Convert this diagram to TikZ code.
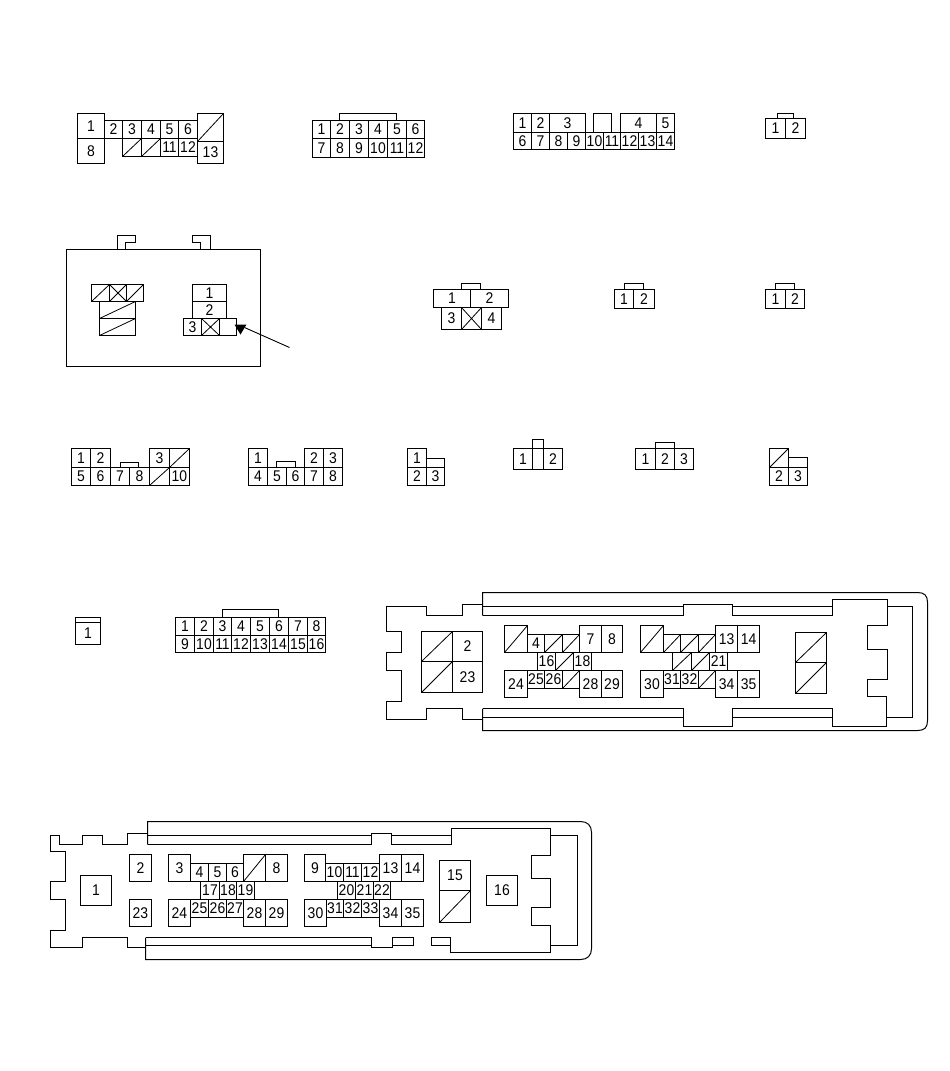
\documentclass[tikz,border=0pt]{standalone}
\usepackage{fontspec}
\setmainfont{Liberation Sans}
\newcounter{cellno}
\tikzset{
  ln/.style={line width=1pt,black},
  dg/.style={line width=0.8pt,black},
  lbl/.style={inner sep=0pt,xscale=0.9,font=\fontsize{15.5}{15.5}\selectfont,text=black}
}
% plain cell with label
\newcommand{\Cl}[5]{%
  \stepcounter{cellno}%
  \draw[ln] (#1,#2) rectangle (#3,#4);
  \node[lbl] (cell\arabic{cellno}) at ({(#1+#3)/2},{(#2+#4)/2}) {#5};}
% cell with diagonal
\newcommand{\Cs}[4]{%
  \draw[ln] (#1,#2) rectangle (#3,#4);
  \draw[dg] (#1,#4) -- (#3,#2);}
% cell with cross
\newcommand{\Cx}[4]{%
  \draw[ln] (#1,#2) rectangle (#3,#4);
  \draw[dg] (#1,#4) -- (#3,#2) (#1,#2) -- (#3,#4);}
\begin{document}
\begin{tikzpicture}[x=1pt,y=-1pt]
\useasboundingbox (0,0) rectangle (950,1071);
\fill[white] (0,0) rectangle (950,1071);
\begin{scope}[shift={(0.5,0.5)}]

% --- row 1 ---
\Cl{77}{113}{104}{138}{1}\Cl{77}{138}{104}{163}{8}
\draw[ln] (104,120) -- (197,120);
\Cl{104}{120}{122}{138}{2}\Cl{122}{120}{141}{138}{3}\Cl{141}{120}{160}{138}{4}\Cl{160}{120}{178}{138}{5}\Cl{178}{120}{197}{138}{6}
\Cs{122}{138}{141}{156}\Cs{141}{138}{160}{156}\Cl{160}{138}{178}{156}{11}\Cl{178}{138}{197}{156}{12}
\Cs{197}{113}{223}{141}\Cl{197}{141}{223}{163}{13}

\draw[ln] (339,120) -- (339,113) -- (396,113) -- (396,120);
\Cl{312}{120}{330}{138}{1}\Cl{330}{120}{349}{138}{2}\Cl{349}{120}{368}{138}{3}\Cl{368}{120}{387}{138}{4}\Cl{387}{120}{406}{138}{5}\Cl{406}{120}{424}{138}{6}
\Cl{312}{138}{330}{157}{7}\Cl{330}{138}{349}{157}{8}\Cl{349}{138}{368}{157}{9}\Cl{368}{138}{387}{157}{10}\Cl{387}{138}{406}{157}{11}\Cl{406}{138}{424}{157}{12}

\Cl{513}{113}{531}{132}{1}\Cl{531}{113}{549}{132}{2}\Cl{549}{113}{585}{132}{3}\Cl{593}{113}{611}{132}{}\Cl{620}{113}{656}{132}{4}\Cl{656}{113}{674}{132}{5}
\Cl{513}{132}{531}{149}{6}\Cl{531}{132}{549}{149}{7}\Cl{549}{132}{567}{149}{8}\Cl{567}{132}{585}{149}{9}\Cl{585}{132}{603}{149}{10}\Cl{603}{132}{620}{149}{11}\Cl{620}{132}{638}{149}{12}\Cl{638}{132}{656}{149}{13}\Cl{656}{132}{674}{149}{14}

\draw[ln] (777,118) -- (777,113) -- (793,113) -- (793,118);
\Cl{765}{118}{785}{138}{1}\Cl{785}{118}{805}{138}{2}

% --- row 2 ---
\draw[ln] (66,249) rectangle (260,366);
\draw[ln] (117,249) -- (117,235) -- (135,235) -- (135,242) -- (125,242) -- (125,249);
\draw[ln] (210,249) -- (210,235) -- (192,235) -- (192,242) -- (200,242) -- (200,249);
\Cs{91}{284}{109}{301}\Cx{109}{284}{126}{301}\Cs{126}{284}{143}{301}
\Cs{99}{301}{135}{318}\Cs{99}{318}{135}{335}
\Cl{192}{284}{226}{301}{1}\Cl{192}{301}{226}{318}{2}
\Cl{183}{318}{201}{335}{3}\Cx{201}{318}{219}{335}\Cl{219}{318}{236}{335}{}
\coordinate (arrowtail) at (289,347);
\coordinate (arrowend) at (244,327);
\coordinate (tipA) at (234,324);
\coordinate (tipB) at (246,324);
\coordinate (tipC) at (240,334);
\draw[line width=0.9pt] (arrowtail) -- (arrowend);
\fill[black] (tipA) -- (tipB) -- (tipC) -- cycle;

\draw[ln] (461,289) -- (461,283) -- (480,283) -- (480,289);
\Cl{433}{289}{470}{307}{1}\Cl{470}{289}{508}{307}{2}
\Cl{441}{307}{461}{329}{3}\Cx{461}{307}{481}{329}\Cl{481}{307}{501}{329}{4}

\draw[ln] (624,289) -- (624,283) -- (643,283) -- (643,289);
\Cl{614}{289}{633}{308}{1}\Cl{633}{289}{654}{308}{2}

\draw[ln] (775,289) -- (775,283) -- (794,283) -- (794,289);
\Cl{765}{289}{785}{308}{1}\Cl{785}{289}{804}{308}{2}

% --- row 3 ---
\draw[ln] (120,467) -- (120,462) -- (138,462) -- (138,467);
\Cl{71}{448}{90}{467}{1}\Cl{90}{448}{110}{467}{2}\Cl{149}{448}{169}{467}{3}\Cs{169}{448}{189}{467}
\Cl{71}{467}{90}{485}{5}\Cl{90}{467}{110}{485}{6}\Cl{110}{467}{129}{485}{7}\Cl{129}{467}{149}{485}{8}\Cs{149}{467}{169}{485}\Cl{169}{467}{189}{485}{10}

\draw[ln] (276,467) -- (276,461) -- (295,461) -- (295,467);
\Cl{248}{448}{267}{467}{1}\Cl{304}{448}{323}{467}{2}\Cl{323}{448}{342}{467}{3}
\Cl{248}{467}{267}{485}{4}\Cl{267}{467}{286}{485}{5}\Cl{286}{467}{304}{485}{6}\Cl{304}{467}{323}{485}{7}\Cl{323}{467}{342}{485}{8}

\Cl{407}{448}{426}{467}{1}\draw[ln] (426,458) rectangle (444,467);
\Cl{407}{467}{426}{485}{2}\Cl{426}{467}{444}{485}{3}

\draw[ln] (532,448) rectangle (543,439);
\Cl{513}{448}{532}{469}{1}\draw[ln] (532,448) rectangle (543,469);\Cl{543}{448}{562}{469}{2}

\draw[ln] (655,448) -- (655,442) -- (674,442) -- (674,448);
\Cl{635}{448}{655}{469}{1}\Cl{655}{448}{674}{469}{2}\Cl{674}{448}{693}{469}{3}

\Cs{769}{448}{788}{467}\draw[ln] (788,457) rectangle (807,467);
\Cl{769}{467}{788}{485}{2}\Cl{788}{467}{807}{485}{3}

% --- row 4 ---
\draw[ln] (75,617) rectangle (100,622);
\Cl{75}{622}{100}{644}{1}

\draw[ln] (222,617) -- (222,609) -- (278,609) -- (278,617);
\Cl{175}{617}{194}{635}{1}\Cl{194}{617}{213}{635}{2}\Cl{213}{617}{231}{635}{3}\Cl{231}{617}{250}{635}{4}\Cl{250}{617}{269}{635}{5}\Cl{269}{617}{288}{635}{6}\Cl{288}{617}{307}{635}{7}\Cl{307}{617}{325}{635}{8}
\Cl{175}{635}{194}{652}{9}\Cl{194}{635}{213}{652}{10}\Cl{213}{635}{231}{652}{11}\Cl{231}{635}{250}{652}{12}\Cl{250}{635}{269}{652}{13}\Cl{269}{635}{288}{652}{14}\Cl{288}{635}{307}{652}{15}\Cl{307}{635}{325}{652}{16}

% large housing 1
\draw[ln] (482,604) -- (462,604) -- (462,615) -- (426,615) -- (426,606) -- (386,606) -- (386,631) -- (401,631) -- (401,652) -- (386,652) -- (386,670) -- (401,670) -- (401,701) -- (386,701) -- (386,719) -- (426,719) -- (426,708) -- (462,708) -- (462,719) -- (482,719);
\draw[ln] (482,615) -- (482,592) -- (917,592) .. controls (924,592) and (927,595) .. (927,602) -- (927,720) .. controls (927,727) and (924,730) .. (917,730) -- (482,730) -- (482,708);
\draw[ln] (482,606) -- (683,606) (482,615) -- (683,615) -- (683,604) -- (732,604) -- (732,615) -- (832,615) (732,606) -- (832,606);
\draw[ln] (832,615) -- (832,599) -- (887,599) -- (887,625) -- (867,625) -- (867,649) -- (887,649) -- (887,679) -- (867,679) -- (867,696) -- (886,696) -- (886,726) -- (832,726) -- (832,708) -- (732,708) -- (732,726) -- (683,726) -- (683,708) -- (482,708);
\draw[ln] (482,717) -- (683,717) (732,717) -- (832,717);
\draw[ln] (887,606) -- (912,606) -- (912,717) -- (886,717);
% cells
\Cs{421}{631}{452}{661}\Cs{421}{661}{452}{692}\Cl{452}{631}{482}{661}{2}\Cl{452}{661}{482}{692}{23}
\Cs{504}{625}{527}{652}\Cl{527}{634}{544}{652}{4}\Cs{544}{634}{562}{652}\Cs{562}{634}{579}{652}\Cl{579}{625}{601}{652}{7}\Cl{601}{625}{622}{652}{8}
\Cl{537}{652}{555}{670}{16}\Cs{555}{652}{573}{670}\Cl{573}{652}{591}{670}{18}
\Cl{504}{670}{527}{697}{24}\Cl{527}{670}{544}{688}{25}\Cl{544}{670}{562}{688}{26}\Cs{562}{670}{579}{688}\Cl{579}{670}{601}{697}{28}\Cl{601}{670}{622}{697}{29}
\Cs{640}{625}{663}{652}\Cs{663}{634}{680}{652}\Cs{680}{634}{698}{652}\Cs{698}{634}{715}{652}\Cl{715}{625}{737}{652}{13}\Cl{737}{625}{759}{652}{14}
\Cs{672}{652}{691}{670}\Cs{691}{652}{709}{670}\Cl{709}{652}{727}{670}{21}
\Cl{640}{670}{663}{697}{30}\Cl{663}{670}{680}{688}{31}\Cl{680}{670}{698}{688}{32}\Cs{698}{670}{715}{688}\Cl{715}{670}{737}{697}{34}\Cl{737}{670}{759}{697}{35}
\Cs{795}{632}{826}{662}\Cs{795}{662}{826}{693}

% large housing 2
\draw[ln] (147,833) -- (127,833) -- (127,844) -- (102,844) -- (102,835) -- (82,835) -- (82,844) -- (59,844) -- (59,835) -- (50,835) -- (50,851) -- (65,851) -- (65,881) -- (50,881) -- (50,899) -- (65,899) -- (65,930) -- (50,930) -- (50,947) -- (82,947) -- (82,937) -- (127,937) -- (127,947) -- (145,947);
\draw[ln] (147,844) -- (147,821) -- (580,821) .. controls (587,821) and (591,825) .. (591,832) -- (591,948) .. controls (591,955) and (587,959) .. (580,959) -- (145,959) -- (145,937);
\draw[ln] (147,835) -- (371,835) (147,844) -- (371,844) -- (371,833) -- (391,833) -- (391,844) -- (451,844) (391,835) -- (451,835);
\draw[ln] (451,844) -- (451,828) -- (550,828) -- (550,855) -- (531,855) -- (531,878) -- (550,878) -- (550,907) -- (531,907) -- (531,925) -- (550,925) -- (550,952) -- (450,952) -- (450,937) -- (431,937) -- (431,945) (413,945) -- (413,937) -- (392,937) -- (392,947) -- (371,947) -- (371,937) -- (145,937);
\draw[ln] (145,945) -- (371,945) (392,945) -- (413,945) (431,945) -- (450,945);
\draw[ln] (550,835) -- (577,835) -- (577,945) -- (550,945);
% cells
\Cl{80}{875}{111}{905}{1}
\Cl{129}{854}{151}{881}{2}\Cl{129}{899}{151}{926}{23}
\Cl{168}{854}{190}{881}{3}\Cl{190}{863}{208}{881}{4}\Cl{208}{863}{226}{881}{5}\Cl{226}{863}{243}{881}{6}\Cs{243}{854}{265}{881}\Cl{265}{854}{287}{881}{8}
\Cl{200}{881}{219}{899}{17}\Cl{219}{881}{236}{899}{18}\Cl{236}{881}{254}{899}{19}
\Cl{168}{899}{190}{926}{24}\Cl{190}{899}{208}{917}{25}\Cl{208}{899}{226}{917}{26}\Cl{226}{899}{243}{917}{27}\Cl{243}{899}{265}{926}{28}\Cl{265}{899}{287}{926}{29}
\Cl{304}{854}{325}{881}{9}\Cl{325}{863}{343}{881}{10}\Cl{343}{863}{361}{881}{11}\Cl{361}{863}{379}{881}{12}\Cl{379}{854}{401}{881}{13}\Cl{401}{854}{423}{881}{14}
\Cl{337}{881}{355}{899}{20}\Cl{355}{881}{373}{899}{21}\Cl{373}{881}{390}{899}{22}
\Cl{304}{899}{326}{926}{30}\Cl{326}{899}{343}{917}{31}\Cl{343}{899}{361}{917}{32}\Cl{361}{899}{379}{917}{33}\Cl{379}{899}{401}{926}{34}\Cl{401}{899}{423}{926}{35}
\Cl{439}{860}{470}{890}{15}\Cs{439}{890}{470}{922}
\Cl{486}{875}{517}{905}{16}
\end{scope}
\end{tikzpicture}
\end{document}
